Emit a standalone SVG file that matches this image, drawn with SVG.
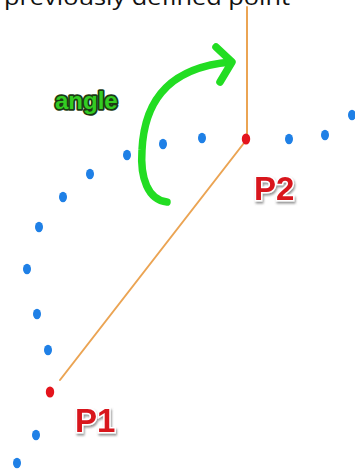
<svg xmlns="http://www.w3.org/2000/svg" width="355" height="470" viewBox="0 0 355 470">
<defs>
<style>
.dot{fill:#1f80e6}
.pt{fill:#e4141c}
.ln{stroke:#eba453;stroke-width:2;fill:none;stroke-linecap:round}
.arr{stroke:#22dd22;stroke-width:7.5;fill:none;stroke-linecap:round;stroke-linejoin:round}
.lbl{font-family:"Liberation Sans",Arial,sans-serif;font-weight:bold;font-size:33px;fill:#d8141e;stroke:#ffffff;stroke-width:3;paint-order:stroke;filter:url(#sh)}
.ang{font-family:"Liberation Sans",Arial,sans-serif;font-weight:bold;font-size:24px;fill:#33cc22;stroke:#1c3a14;stroke-width:3.5;paint-order:stroke;stroke-linejoin:round}
.top{font-family:"Open Sans","Liberation Sans",sans-serif;font-size:22px;fill:#111}
</style>
<filter id="sh" x="-20%" y="-20%" width="150%" height="150%">
<feDropShadow dx="1" dy="2" stdDeviation="1.2" flood-color="#666" flood-opacity="0.7"/>
</filter>
</defs>
<rect width="355" height="470" fill="#ffffff"/>
<text class="top" x="4" y="5" textLength="286" lengthAdjust="spacingAndGlyphs">previously defined point</text>
<g id="connectors">
<line class="ln" x1="247" y1="7" x2="247" y2="135"/>
<line class="ln" x1="244" y1="143" x2="60" y2="380"/>
</g>
<g id="path-dots">
<ellipse class="dot" cx="17" cy="463" rx="4" ry="5.3"/>
<ellipse class="dot" cx="36" cy="435" rx="4" ry="5.3"/>
<ellipse class="dot" cx="48" cy="350" rx="4" ry="5.3"/>
<ellipse class="dot" cx="37" cy="314" rx="4" ry="5.3"/>
<ellipse class="dot" cx="27" cy="269" rx="4" ry="5.3"/>
<ellipse class="dot" cx="39" cy="227" rx="4" ry="5.3"/>
<ellipse class="dot" cx="63" cy="197" rx="4" ry="5.3"/>
<ellipse class="dot" cx="90" cy="174" rx="4" ry="5.3"/>
<ellipse class="dot" cx="127" cy="155" rx="4" ry="5.3"/>
<ellipse class="dot" cx="163" cy="144" rx="4" ry="5.3"/>
<ellipse class="dot" cx="202" cy="138" rx="4" ry="5.3"/>
<ellipse class="dot" cx="289" cy="139" rx="4" ry="5.3"/>
<ellipse class="dot" cx="325" cy="135" rx="4" ry="5.3"/>
<ellipse class="dot" cx="352" cy="115" rx="4" ry="5.3"/>
</g>
<g id="P1">
<ellipse class="pt" cx="50" cy="392" rx="4.2" ry="5.5"/>
<text class="lbl" x="75" y="432">P1</text>
</g>
<g id="P2">
<ellipse class="pt" cx="246" cy="139" rx="4.2" ry="5.5"/>
<text class="lbl" x="254" y="200">P2</text>
</g>
<g id="angle">
<path class="arr" d="M167,202 C148,200 140,178 142,150 C144,108 162,68 231,62"/>
<path class="arr" d="M216,47 L232,62 L220,82"/>
<text class="ang" x="55" y="109">angle</text>
</g>
</svg>
